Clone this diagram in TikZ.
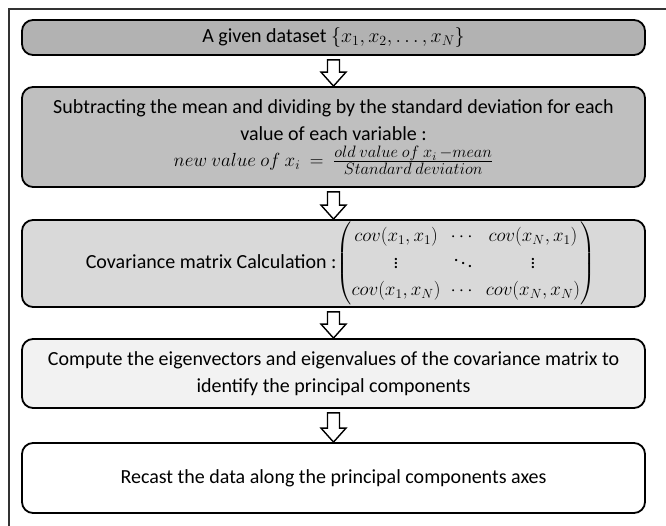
\documentclass[tikz,border=0pt]{standalone}
\usepackage{fix-cm}
\usepackage{amsmath}
\usepackage{fontspec}
\setmainfont{Carlito}
\usetikzlibrary{calc}
\newcommand\fracpart[1]{\mbox{\fontsize{16.5}{18}\selectfont$#1$}}
\begin{document}
\begin{tikzpicture}[x=1pt,y=-1pt,
  box/.style={draw=black, line width=1.8pt, rounded corners=11pt, minimum width=623pt,
    align=center, inner sep=0pt, font=\fontsize{20}{27}\selectfont},
  barrow/.style={draw=black, line width=1.4pt, fill=white, line join=miter}]
\useasboundingbox (0,0) rectangle (666,526);
\draw[line width=1.2pt, draw=black!80] (9,526) coordinate (fbl) -- (9,9) coordinate (ftl) -- (666,9) coordinate (ftr);

\node[box, fill=black!30, minimum height=35pt] (b1) at (333.5,37.5)
  {A given dataset $\{x_1, x_2, \ldots, x_N\}$};
\node[box, fill=black!25, minimum height=100pt] (b2) at (333.5,137)
  {Subtracting the mean and dividing by the standard deviation for each\\
   value of each variable :\\[-1pt]
   {\fontsize{19}{27}\selectfont$new\ value\ of\ x_i\ =\ \frac{\fracpart{old\ value\ of\ x_i\,{-}mean}}{\fracpart{Standard\ deviation}}$}};
\node[box, fill=black!15, minimum height=87pt] (b3) at (333.5,263.5)
  {\hspace*{14pt}Covariance matrix Calculation :{\fontsize{19}{27}\selectfont$\begin{pmatrix}
     cov(x_1,x_1) & \cdots & cov(x_N,x_1)\\
     \vdots & \ddots & \vdots\\
     cov(x_1,x_N) & \cdots & cov(x_N,x_N)
   \end{pmatrix}$}};
\node[box, fill=black!5, minimum height=69pt] (b4) at (333.5,373.5)
  {Compute the eigenvectors and eigenvalues of the covariance matrix to\\
   identify the principal components};
\node[box, fill=white, minimum height=70pt] (b5) at (333.5,478)
  {Recast the data along the principal components axes};

\foreach \a/\b in {b1/b2,b2/b3,b3/b4,b4/b5}{
  \draw[barrow] let \p1=(\a.south), \p2=(\b.north) in
    (\x1-6pt,\y1-4pt) -- (\x1+6pt,\y1-4pt) -- (\x1+6pt,\y2+14pt) -- (\x1+12.5pt,\y2+14pt)
    -- (\x1,\y2) -- (\x1-12.5pt,\y2+14pt) -- (\x1-6pt,\y2+14pt) -- cycle;
}
\end{tikzpicture}
\end{document}
